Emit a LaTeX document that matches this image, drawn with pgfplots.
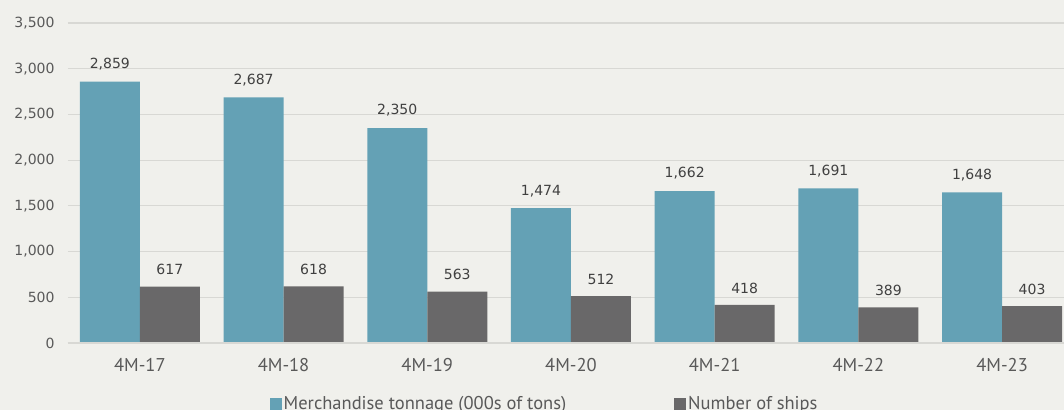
\documentclass[border=0pt]{standalone}
\usepackage{pgfplots}
\pgfplotsset{compat=1.18}
\usepackage{fontspec}
\setmainfont{PT Sans}
\newfontfamily\numfont{DejaVu Sans}
\definecolor{bgc}{HTML}{F0F0EC}
\definecolor{teal}{HTML}{64A1B5}
\definecolor{shipgray}{HTML}{696869}
\definecolor{gridc}{HTML}{D8D8D4}
\definecolor{labc}{HTML}{404040}
\definecolor{tickc}{HTML}{595959}

\pgfplotstableread{
x tonnage ships
0 2859 617
1 2687 618
2 2350 563
3 1474 512
4 1662 418
5 1691 389
6 1648 403
}\datatable

\begin{document}
\begin{tikzpicture}
\useasboundingbox (-68bp,-67bp) rectangle (996bp,343bp);
\fill[bgc] (-68bp,-67bp) rectangle (996bp,343bp);
\clip (-68bp,-67bp) rectangle (996bp,343bp);
\begin{axis}[
  at={(0,0)}, anchor=south west,
  scale only axis,
  width=996bp, height=320bp,
  ybar=0pt, bar width=60bp,
  xmin=-0.5, xmax=6.431,
  ymin=0, ymax=3500,
  ytick={0,500,...,3500},
  xtick=data,
  xticklabels={4M-17,4M-18,4M-19,4M-20,4M-21,4M-22,4M-23},
  axis line style={draw=none},
  axis x line*=bottom,
  axis y line*=left,
  major tick length=0pt,
  ymajorgrids,
  grid style={gridc, line width=1.2bp},
  /pgf/number format/.cd, 1000 sep={,}, assume math mode=true,
  /pgfplots/.cd,
  scaled y ticks=false,
  yticklabel style={font=\numfont\fontsize{14bp}{16bp}\selectfont, text=tickc, xshift=-10bp},
  xticklabel style={font=\fontsize{18.5bp}{20bp}\selectfont, text=tickc, yshift=-12bp},
  nodes near coords,
  every node near coord/.append style={font=\numfont\fontsize{14bp}{16bp}\selectfont, text=labc, yshift=8bp},
  legend columns=2,
  legend style={at={(0.4785,-0.19)}, anchor=center, draw=none, fill=none,
    font=\fontsize{18.5bp}{20bp}\selectfont, text=tickc,
    /tikz/every even column/.append style={column sep=106bp},
    inner sep=0pt},
  legend image code/.code={\fill[#1] (0bp,-6bp) rectangle (12bp,6bp);},
  clip=false,
]
\addplot[fill=teal, draw=none] table[x=x, y=tonnage] {\datatable};
\addplot[fill=shipgray, draw=none] table[x=x, y=ships] {\datatable};
\draw[gridc, line width=1.5bp] (axis cs:-0.5,0) -- (axis cs:6.431,0);
\legend{Merchandise tonnage (000s of tons), Number of ships}
\end{axis}
\end{tikzpicture}
\end{document}
